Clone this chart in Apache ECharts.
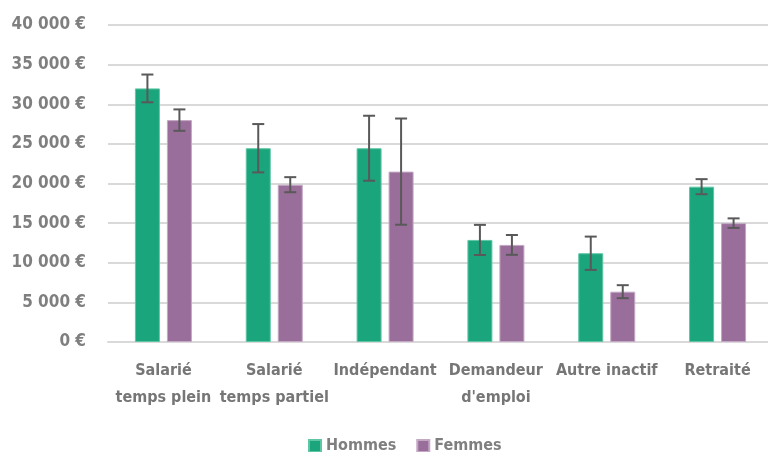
<!DOCTYPE html>
<html><head><meta charset="utf-8">
<script src="https://cdn.jsdelivr.net/npm/echarts@6/dist/echarts.min.js"></script>
<style>html,body{margin:0;padding:0;background:#fff;overflow:hidden}#c{width:768px;height:452px}</style>
</head><body><div id="c"></div>
<script>
const categories = ['Salarié\ntemps plein', 'Salarié\ntemps partiel', 'Indépendant', 'Demandeur\nd\'emploi', 'Autre inactif', 'Retraité'];
const hommes = [32000, 24450, 24450, 12880, 11200, 19600];
const femmes = [28000, 19850, 21500, 12250, 6350, 15000];
const hommesErr = [1750, 3050, 4100, 1900, 2100, 950];
const femmesErr = [1350, 950, 6700, 1250, 820, 600];

const FONT = '"DejaVu Sans Condensed", "Liberation Sans Narrow", sans-serif';
const GREEN = '#1ba57d', PURPLE = '#9a6e9a';
function fmt(v){ return String(v).replace(/\B(?=(\d{3})+(?!\d))/g, ' ') + ' €'; }

function errSeries(vals, errs, off){
  return {
    type: 'custom', z: 10,
    data: vals.map((v,i)=>[i, v - errs[i], v + errs[i]]),
    renderItem: function(params, api){
      const x = api.value(0);
      const lo = api.coord([x, api.value(1)]);
      const hi = api.coord([x, api.value(2)]);
      const cx = lo[0] + off;
      const hw = 6;
      const st = {stroke:'#595959', lineWidth:2};
      return {type:'group', children:[
        {type:'line', shape:{x1:cx,y1:hi[1],x2:cx,y2:lo[1]}, style:st},
        {type:'line', shape:{x1:cx-hw,y1:hi[1],x2:cx+hw,y2:hi[1]}, style:st},
        {type:'line', shape:{x1:cx-hw,y1:lo[1],x2:cx+hw,y2:lo[1]}, style:st}
      ]};
    }
  };
}

const chart = echarts.init(document.getElementById('c'));
chart.setOption({
  animation:false,
  textStyle:{fontFamily:FONT},
  grid:{left:108, width:665, top:25, height:317, outerBoundsMode:'none', containLabel:false},
  legend:{
    top:433, left:303, itemWidth:12, itemHeight:12, itemGap:20, icon:'rect',
    data:['Hommes','Femmes'],
    textStyle:{fontFamily:FONT, fontWeight:'bold', fontSize:16, color:'#7f7f7f'}
  },
  xAxis:{
    type:'category', data:categories,
    axisLine:{lineStyle:{color:'#d9d9d9', width:2}}, axisTick:{show:false},
    axisLabel:{fontFamily:FONT, fontWeight:'bold', fontSize:16, color:'#767676', margin:15, lineHeight:27, interval:0}
  },
  yAxis:{
    type:'value', min:0, max:40000, interval:5000,
    axisLine:{show:false}, axisTick:{show:false},
    splitLine:{lineStyle:{color:'#d9d9d9', width:2}},
    axisLabel:{formatter:fmt, fontFamily:FONT, fontWeight:'bold', fontSize:17, color:'#7f7f7f', margin:22}
  },
  series:[
    {name:'Hommes', type:'bar', data:hommes, barWidth:25, barGap:'28%', itemStyle:{color:GREEN, borderColor:'#5fc6a4', borderWidth:1}},
    {name:'Femmes', type:'bar', data:femmes, barWidth:25, barGap:'28%', itemStyle:{color:PURPLE, borderColor:'#c3a8c3', borderWidth:1}},
    errSeries(hommes, hommesErr, -16),
    errSeries(femmes, femmesErr, 16)
  ]
});
</script></body></html>
